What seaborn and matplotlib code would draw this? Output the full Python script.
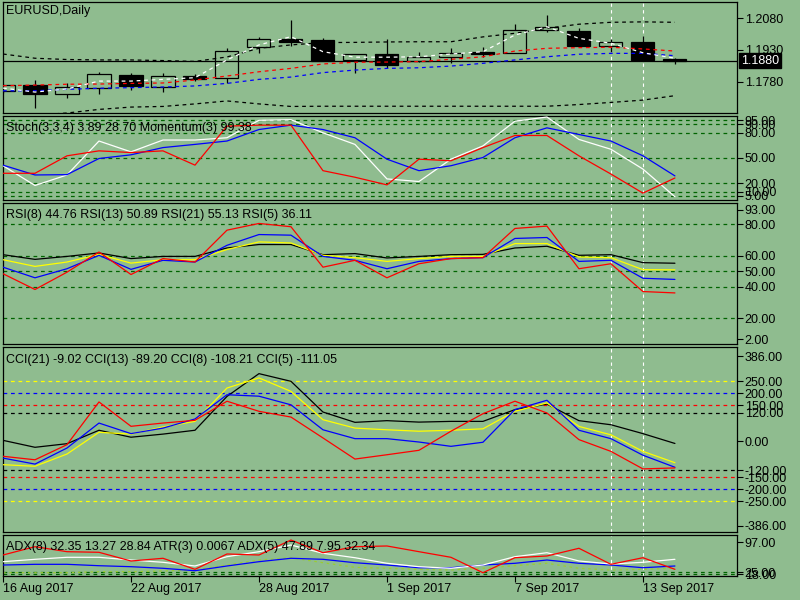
import numpy as np
import pandas as pd
import matplotlib
matplotlib.use("Agg")
import matplotlib.pyplot as plt
import seaborn as sns

sns.set_theme(style="white", rc={'axes.edgecolor': 'black', 'text.color': 'black',
                                 'xtick.color': 'black', 'ytick.color': 'black'})
plt.rcParams['font.family'] = ['Liberation Sans', 'DejaVu Sans']

BG = '#8fbc8f'
LEVEL = '#006400'
FS = 9

# ---- bars ----
dates = ['16 Aug 2017', '17 Aug 2017', '18 Aug 2017', '21 Aug 2017', '22 Aug 2017',
         '23 Aug 2017', '24 Aug 2017', '25 Aug 2017', '28 Aug 2017', '29 Aug 2017',
         '30 Aug 2017', '31 Aug 2017', '1 Sep 2017', '4 Sep 2017', '5 Sep 2017',
         '6 Sep 2017', '7 Sep 2017', '8 Sep 2017', '11 Sep 2017', '12 Sep 2017',
         '13 Sep 2017', '14 Sep 2017']
date_ticks = ['16 Aug 2017', '22 Aug 2017', '28 Aug 2017', '1 Sep 2017', '7 Sep 2017', '13 Sep 2017']
marker_days = ['12 Sep 2017', '13 Sep 2017']

opens = [1.1737, 1.1764, 1.1720, 1.1752, 1.1812, 1.1755, 1.1806, 1.1796, 1.1943, 1.1981, 1.1976,
         1.1883, 1.1911, 1.1879, 1.1896, 1.1921, 1.1914, 1.2023, 1.2020, 1.1950, 1.1968, 1.1886]
highs = [1.1769, 1.1788, 1.1772, 1.1827, 1.1821, 1.1821, 1.1816, 1.1940, 1.1990, 1.2072, 1.1985,
         1.1910, 1.1981, 1.1922, 1.1938, 1.1946, 1.2052, 1.2096, 1.2034, 1.1981, 1.1998, 1.1891]
lows = [1.1727, 1.1657, 1.1704, 1.1723, 1.1739, 1.1733, 1.1782, 1.1772, 1.1914, 1.1949, 1.1878,
        1.1820, 1.1843, 1.1872, 1.1867, 1.1898, 1.1914, 1.2014, 1.1946, 1.1921, 1.1883, 1.1862]
closes = [1.1764, 1.1720, 1.1756, 1.1816, 1.1760, 1.1806, 1.1794, 1.1924, 1.1981, 1.1969, 1.1878,
          1.1910, 1.1858, 1.1896, 1.1916, 1.1913, 1.2023, 1.2040, 1.1950, 1.1968, 1.1883, 1.1880]

ma_white = [1.1750, 1.1731, 1.1746, 1.1783, 1.1783, 1.1791, 1.1799, 1.1883, 1.1954, 1.1993, 1.1922,
            1.1896, 1.1896, 1.1898, 1.1911, 1.1922, 1.2001, 1.2040, 1.1985, 1.1962, 1.1917, 1.1891]
ma_red = [1.1761, 1.1764, 1.1768, 1.1769, 1.1772, 1.1774, 1.1788, 1.1807, 1.1827, 1.1843, 1.1864,
          1.1872, 1.1873, 1.1875, 1.1886, 1.1898, 1.1925, 1.1938, 1.1941, 1.1943, 1.1935, 1.1925]
ma_blue = [1.1737, 1.1737, 1.1744, 1.1749, 1.1752, 1.1755, 1.1760, 1.1772, 1.1791, 1.1802, 1.1823,
           1.1835, 1.1843, 1.1846, 1.1854, 1.1867, 1.1883, 1.1898, 1.1910, 1.1914, 1.1914, 1.1903]
env_upper = [1.1911, 1.1891, 1.1885, 1.1883, 1.1883, 1.1880, 1.1876, 1.1897, 1.1938, 1.1954, 1.1965,
             1.1966, 1.1968, 1.1969, 1.1969, 1.1992, 1.2009, 1.2033, 1.2052, 1.2061, 1.2063, 1.2061]
env_lower = [1.1618, 1.1622, 1.1632, 1.1649, 1.1660, 1.1663, 1.1675, 1.1689, 1.1675, 1.1663, 1.1664,
             1.1664, 1.1664, 1.1664, 1.1664, 1.1664, 1.1664, 1.1664, 1.1672, 1.1682, 1.1693, 1.1714]
price_ticks = [1.2080, 1.1930, 1.1780]

# ---- stochastic / momentum ----
stoch_main = [40.8, 17.3, 29.8, 70.2, 57.3, 71.4, 71.4, 74.1, 94.9, 95.6, 80.0,
              66.2, 25.1, 22.0, 48.6, 64.4, 93.8, 98.8, 72.1, 60.4, 36.8, 3.89]
stoch_signal = [41.5, 29.8, 30.2, 49.4, 53.8, 62.4, 66.2, 70.2, 83.9, 89.1, 83.9,
                74.1, 48.6, 34.9, 40.8, 50.6, 74.1, 85.9, 78.0, 70.2, 52.6, 28.70]
momentum = [31.8, 31.8, 52.6, 58.5, 56.5, 58.5, 41.5, 87.9, 89.1, 89.1, 34.9,
            27.1, 18.0, 48.6, 46.7, 62.4, 76.8, 76.8, 52.6, 30.9, 8.2, 26.2]
stoch_levels = [95, 90, 80, 50, 20, 10, 5]

# ---- RSI ----
rsi21 = [60.6, 57.6, 59.5, 61.7, 58.1, 59.5, 59.5, 64.9, 67.1, 67.1, 60.6,
         61.3, 58.5, 59.5, 60.6, 60.8, 64.9, 66.0, 60.2, 60.6, 55.5, 55.13]
rsi13 = [57.4, 53.1, 55.9, 60.8, 55.2, 57.4, 57.4, 63.9, 68.8, 68.1, 60.2,
         58.7, 56.3, 58.1, 59.5, 59.5, 67.7, 67.7, 59.1, 58.7, 51.0, 50.89]
rsi8 = [52.6, 45.8, 51.6, 60.2, 51.2, 57.0, 55.9, 66.6, 73.5, 73.1, 59.5,
        57.0, 51.6, 56.3, 58.1, 58.7, 71.0, 71.6, 56.3, 57.0, 45.5, 44.76]
rsi5 = [48.4, 38.3, 49.4, 62.3, 47.9, 58.1, 55.9, 76.3, 80.6, 78.5, 52.6,
        57.0, 45.8, 54.8, 58.1, 58.7, 77.4, 78.9, 51.6, 54.8, 37.0, 36.11]
rsi_levels = [80, 60, 50, 40, 20]
rsi_tick_pos = [89.3, 80, 60, 50, 40, 20, 6.5]
rsi_tick_lab = ['93.00', '80.00', '60.00', '50.00', '40.00', '20.00', '2.00']

# ---- CCI ----
cci21 = [4, -25, -10, 46, 17, 30, 46, 187, 282, 250, 122,
         79, 86, 80, 83, 83, 132, 155, 86, 69, 32, -9.02]
cci13 = [-97.5, -104, -53, 37.5, 30, 60, 83, 222, 264, 208, 90,
         55, 48, 42, 46, 52, 125, 160, 62, 27, -42, -89.20]
cci8 = [-70, -95, -28, 76, 32, 55, 93, 194, 188, 152, 48,
        11, 11, -3, -21, -4, 132, 171, 46, 11, -58, -108.21]
cci5 = [-62.5, -77, -14, 164, 62.5, 76, 87.5, 167, 125, 101, 14,
        -74, -56, -37.5, 42, 115, 167, 118, 7, -42, -115, -111.05]
cci_levels = [250, 200, 150, 120, -120, -150, -200, -250]
cci_level_colors = ['yellow', 'blue', 'red', 'black', 'black', 'red', 'blue', 'yellow']
cci_tick_pos = [354, 250, 200, 150, 120, 0, -120, -150, -200, -250, -352]
cci_tick_lab = ['386.00', '250.00', '200.00', '150.00', '120.00', '0.00',
                '-120.00', '-150.00', '-200.00', '-250.00', '-386.00']

# ---- ADX / ATR ----
adx_red = [51.2, 71.5, 59.3, 57.8, 36.6, 43.2, 16.3, 53.7, 51.2, 87.8, 56.8,
           71.5, 73.2, 59.3, 45.6, 8.0, 44.6, 48.8, 67.6, 28.5, 44.6, 16.3]
adx_white = [34.9, 40.7, 45.6, 45.6, 39.0, 33.4, 24.4, 47.1, 59.3, 75.6, 55.4,
             44.6, 31.0, 22.7, 18.8, 26.8, 47.1, 56.8, 36.6, 29.3, 33.4, 40.7]
adx_blue = [26.8, 28.5, 28.5, 25.1, 22.7, 18.8, 12.9, 24.4, 34.9, 43.2, 40.7,
            32.4, 26.8, 20.2, 20.2, 26.8, 31.0, 39.0, 31.0, 26.8, 20.2, 24.4]
atr_line = [8.0, 8.0, 8.0, 10.5, 10.5, 12.2, 14.6, 26.8, 39.0, 44.6, 32.4,
            21.2, 18.8, 16.3, 14.6, 18.8, 25.1, 31.0, 18.8, 14.6, 16.3, 18.8]
adx_levels = [9, 4.5]
adx_tick_pos = [82, 9, 4.5]
adx_tick_lab = ['97.00', '25.00', '18.00']

n = len(dates)
bars = np.arange(n)

fig = plt.figure(figsize=(8, 6), dpi=100, facecolor=BG)


def panel(top, bottom):
    ax = fig.add_axes([3 / 800, 1 - bottom / 600, 734 / 800, (bottom - top) / 600])
    ax.set_facecolor(BG)
    return ax


def finish(ax, ylim):
    ax.set_xlim(0, 22.94)
    ax.set_ylim(*ylim)
    ax.set_xlabel('')
    ax.set_ylabel('')
    ax.tick_params(axis='y', left=False, labelleft=False, right=True, labelright=True,
                   direction='out', length=4, width=0.8, pad=1.5, labelsize=FS)
    ax.tick_params(axis='x', bottom=False, labelbottom=False)
    for s in ax.spines.values():
        s.set_color('black')
        s.set_linewidth(0.9)
    for d in marker_days:
        ax.axvline(dates.index(d), color='white', lw=0.8, ls=(0, (3, 3)), zorder=1)


def draw_lines(ax, series, palette, lw=0.9, **kw):
    df = pd.DataFrame(series)
    df['bar'] = bars
    long = df.melt(id_vars='bar', var_name='line', value_name='value')
    sns.lineplot(data=long, x='bar', y='value', hue='line', hue_order=list(series),
                 palette=palette, legend=False, errorbar=None, lw=lw, ax=ax, zorder=3, **kw)


# ---------- main price panel ----------
ax0 = panel(2, 113)
o, h, l, c = map(np.array, (opens, highs, lows, closes))
bull = c >= o
body_lo = np.minimum(o, c)
body_hi = np.maximum(o, c)
ax0.vlines(bars, body_hi, h, color='black', lw=0.9, zorder=2)
ax0.vlines(bars, l, body_lo, color='black', lw=0.9, zorder=2)
ax0.bar(bars[bull], (body_hi - body_lo)[bull], bottom=body_lo[bull], width=0.72,
        fill=False, edgecolor='black', lw=0.9, zorder=2)
ax0.bar(bars[~bull], (body_hi - body_lo)[~bull], bottom=body_lo[~bull], width=0.72,
        color='black', edgecolor='black', lw=0.9, zorder=2)
ax0.axhline(closes[-1], color='black', lw=0.9, zorder=2)
for vals, col in [(env_upper, 'black'), (env_lower, 'black'), (ma_blue, 'blue'),
                  (ma_red, 'red'), (ma_white, 'white')]:
    sns.lineplot(x=bars, y=vals, color=col, lw=0.9, linestyle=(0, (3, 3)), ax=ax0, zorder=3)
finish(ax0, (1.1632, 1.2157))
ax0.set_yticks(price_ticks)
ax0.set_yticklabels([f'{v:.4f}' for v in price_ticks])
ax0.annotate(f'{closes[-1]:.4f}', xy=(1, closes[-1]), xycoords=ax0.get_yaxis_transform(),
             xytext=(3, 0), textcoords='offset points', ha='left', va='center', color='white',
             fontsize=FS, bbox=dict(boxstyle='square,pad=0.15', fc='black', ec='black'),
             annotation_clip=False, zorder=10)
fig.text(6 / 800, 1 - 11 / 600, 'EURUSD,Daily', fontsize=FS, va='center')

# ---------- stochastic panel ----------
ax1 = panel(116, 200)
for lv in stoch_levels:
    ax1.axhline(lv, color=LEVEL, lw=0.9, ls=(0, (3, 3)), zorder=1)
draw_lines(ax1, {'Stoch': stoch_main, 'Signal': stoch_signal, 'Momentum': momentum},
           {'Stoch': 'white', 'Signal': 'blue', 'Momentum': 'red'})
finish(ax1, (0, 100))
ax1.set_yticks(stoch_levels)
ax1.set_yticklabels([f'{v:.2f}' for v in stoch_levels])
fig.text(6 / 800, 1 - 128 / 600,
         f'Stoch(3,3,4) {stoch_main[-1]:.2f} {stoch_signal[-1]:.2f} Momentum(3) 99.38',
         fontsize=FS, va='center')

# ---------- RSI panel ----------
ax2 = panel(203, 344)
for lv in rsi_levels:
    ax2.axhline(lv, color=LEVEL, lw=0.9, ls=(0, (3, 3)), zorder=1)
draw_lines(ax2, {'RSI(21)': rsi21, 'RSI(13)': rsi13, 'RSI(8)': rsi8, 'RSI(5)': rsi5},
           {'RSI(21)': 'black', 'RSI(13)': 'yellow', 'RSI(8)': 'blue', 'RSI(5)': 'red'})
finish(ax2, (3.4, 93.7))
ax2.set_yticks(rsi_tick_pos)
ax2.set_yticklabels(rsi_tick_lab)
fig.text(6 / 800, 1 - 215 / 600,
         f'RSI(8) {rsi8[-1]:.2f} RSI(13) {rsi13[-1]:.2f} RSI(21) {rsi21[-1]:.2f} RSI(5) {rsi5[-1]:.2f}',
         fontsize=FS, va='center')

# ---------- CCI panel ----------
ax3 = panel(347, 532)
for lv, col in zip(cci_levels, cci_level_colors):
    ax3.axhline(lv, color=col, lw=0.9, ls=(0, (3, 3)), zorder=1)
draw_lines(ax3, {'CCI(21)': cci21, 'CCI(13)': cci13, 'CCI(8)': cci8, 'CCI(5)': cci5},
           {'CCI(21)': 'black', 'CCI(13)': 'yellow', 'CCI(8)': 'blue', 'CCI(5)': 'red'})
finish(ax3, (-378, 393))
ax3.set_yticks(cci_tick_pos)
ax3.set_yticklabels(cci_tick_lab)
fig.text(6 / 800, 1 - 360 / 600,
         f'CCI(21) {cci21[-1]:.2f} CCI(13) {cci13[-1]:.2f} CCI(8) {cci8[-1]:.2f} CCI(5) {cci5[-1]:.2f}',
         fontsize=FS, va='center')

# ---------- ADX / ATR panel ----------
ax4 = panel(535, 576)
for lv in adx_levels:
    ax4.axhline(lv, color=LEVEL, lw=0.9, ls=(0, (3, 3)), zorder=1)
sns.lineplot(x=bars, y=atr_line, color='#9acd32', lw=0.9, linestyle=(0, (2, 3)), ax=ax4, zorder=2)
draw_lines(ax4, {'blue': adx_blue, 'white': adx_white, 'red': adx_red},
           {'blue': 'blue', 'white': 'white', 'red': 'red'})
finish(ax4, (0, 100))
ax4.set_yticks(adx_tick_pos)
ax4.set_yticklabels(adx_tick_lab)
fig.text(6 / 800, 1 - 547 / 600,
         'ADX(8) 32.35 13.27 28.84 ATR(3) 0.0067 ADX(5) 47.89 7.95 32.34',
         fontsize=FS, va='center')

ax4.set_xticks([dates.index(d) for d in date_ticks])
ax4.set_xticklabels(date_ticks)
ax4.tick_params(axis='x', bottom=True, labelbottom=True, direction='out',
                length=4, width=0.8, pad=1, labelsize=FS)
for lab in ax4.get_xticklabels():
    lab.set_horizontalalignment('left')

fig.savefig('out.png', dpi=100, facecolor=BG)
